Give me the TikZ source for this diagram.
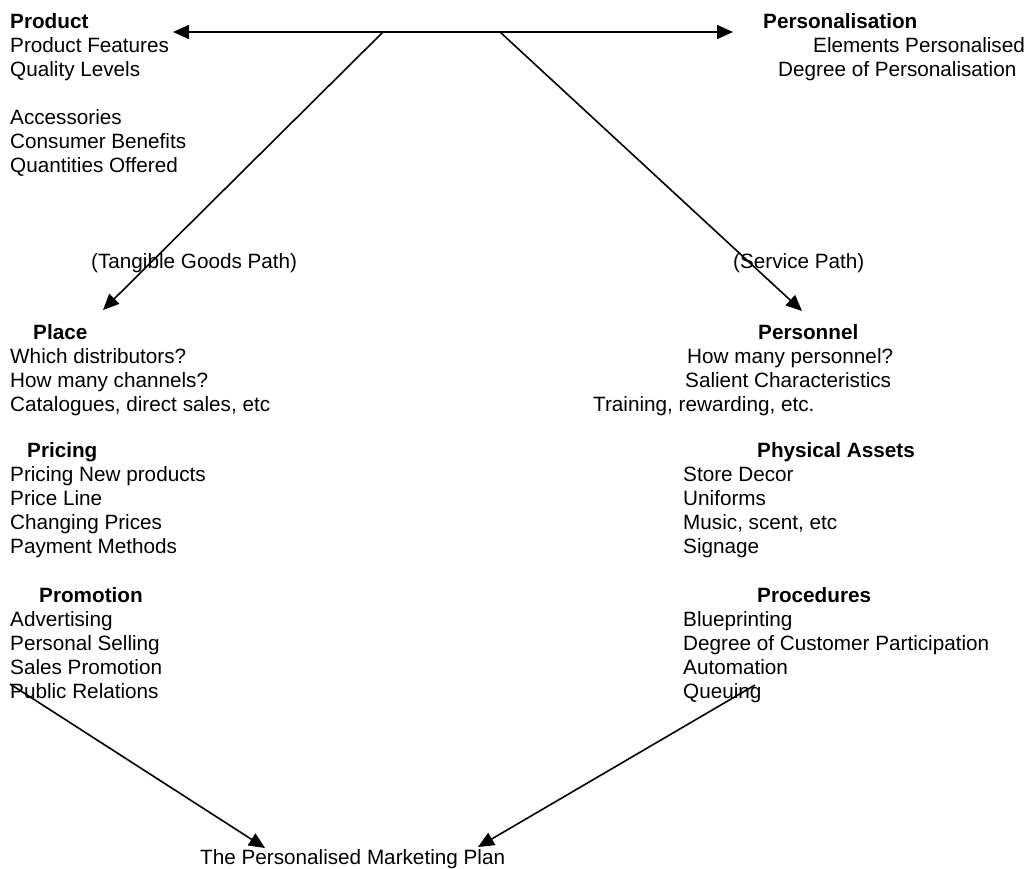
\documentclass[tikz,border=0pt]{standalone}
\usepackage{fontspec}
\setmainfont{Liberation Sans}
\usetikzlibrary{arrows.meta}
\begin{document}
\begin{tikzpicture}[x=1pt,y=-1pt,
  txt/.style={anchor=base west,inner sep=0pt,font=\fontsize{20.7}{24}\selectfont},
  hd/.style={txt,font=\fontsize{20.7}{24}\selectfont\bfseries},
  link/.style={line width=1.6pt,-{Triangle[length=16pt,width=14pt]}}]
\useasboundingbox (0,0) rectangle (1026,868);

% Product
\node[hd]  (prod)  at (10,28)  {Product};
\node[txt] (prod1) at (10,52)  {Product Features};
\node[txt] (prod2) at (10,76)  {Quality Levels};
\node[txt] (prod3) at (10,124) {Accessories};
\node[txt] (prod4) at (10,148) {Consumer Benefits};
\node[txt] (prod5) at (10,172) {Quantities Offered};

% Personalisation
\node[hd]  (pers)  at (763,28) {Personalisation};
\node[txt] (pers1) at (813,52) {Elements Personalised};
\node[txt] (pers2) at (778,76) {Degree of Personalisation};

% Path labels
\node[txt] (tgp) at (91,268)  {(Tangible Goods Path)};
\node[txt] (svp) at (733,268) {(Service Path)};

% Place
\node[hd]  (place)  at (33,339) {Place};
\node[txt] (place1) at (10,363) {Which distributors?};
\node[txt] (place2) at (10,387) {How many channels?};
\node[txt] (place3) at (10,411) {Catalogues, direct sales, etc};

% Personnel
\node[hd]  (prsn)  at (758,339) {Personnel};
\node[txt] (prsn1) at (687,363) {How many personnel?};
\node[txt] (prsn2) at (685,387) {Salient Characteristics};
\node[txt] (prsn3) at (593,411) {Training, rewarding, etc.};

% Pricing
\node[hd]  (pric)  at (27,457) {Pricing};
\node[txt] (pric1) at (10,481) {Pricing New products};
\node[txt] (pric2) at (10,505) {Price Line};
\node[txt] (pric3) at (10,529) {Changing Prices};
\node[txt] (pric4) at (10,553) {Payment Methods};

% Physical Assets
\node[hd]  (phys)  at (757,457) {Physical Assets};
\node[txt] (phys1) at (683,481) {Store Decor};
\node[txt] (phys2) at (683,505) {Uniforms};
\node[txt] (phys3) at (683,529) {Music, scent, etc};
\node[txt] (phys4) at (683,553) {Signage};

% Promotion
\node[hd]  (prom)  at (39,602) {Promotion};
\node[txt] (prom1) at (10,626) {Advertising};
\node[txt] (prom2) at (10,650) {Personal Selling};
\node[txt] (prom3) at (10,674) {Sales Promotion};
\node[txt] (prom4) at (10,698) {Public Relations};

% Procedures
\node[hd]  (proc)  at (757,602) {Procedures};
\node[txt] (proc1) at (683,626) {Blueprinting};
\node[txt] (proc2) at (683,650) {Degree of Customer Participation};
\node[txt] (proc3) at (683,674) {Automation};
\node[txt] (proc4) at (683,698) {Queuing};

% Plan
\node[txt] (plan) at (200,864) {The Personalised Marketing Plan};

% Connector end points
\coordinate (hubL)   at (383,32);
\coordinate (hubR)   at (500,32);
\coordinate (tipP)   at (173,32);
\coordinate (tipS)   at (733,32);
\coordinate (tipPl)  at (103,310);
\coordinate (tipPe)  at (802,311);
\coordinate (fromPr) at (10,684);
\coordinate (fromQu) at (755,685);
\coordinate (tipL)   at (265,848);
\coordinate (tipR)   at (478,847);

% Connectors
\draw[line width=1.6pt] (hubL) -- (hubR);
\draw[link] (hubL) -- (tipP);
\draw[link] (hubR) -- (tipS);
\draw[link] (hubL) -- (tipPl);
\draw[link] (hubR) -- (tipPe);
\draw[link] (fromPr) -- (tipL);
\draw[link] (fromQu) -- (tipR);
\end{tikzpicture}
\end{document}
